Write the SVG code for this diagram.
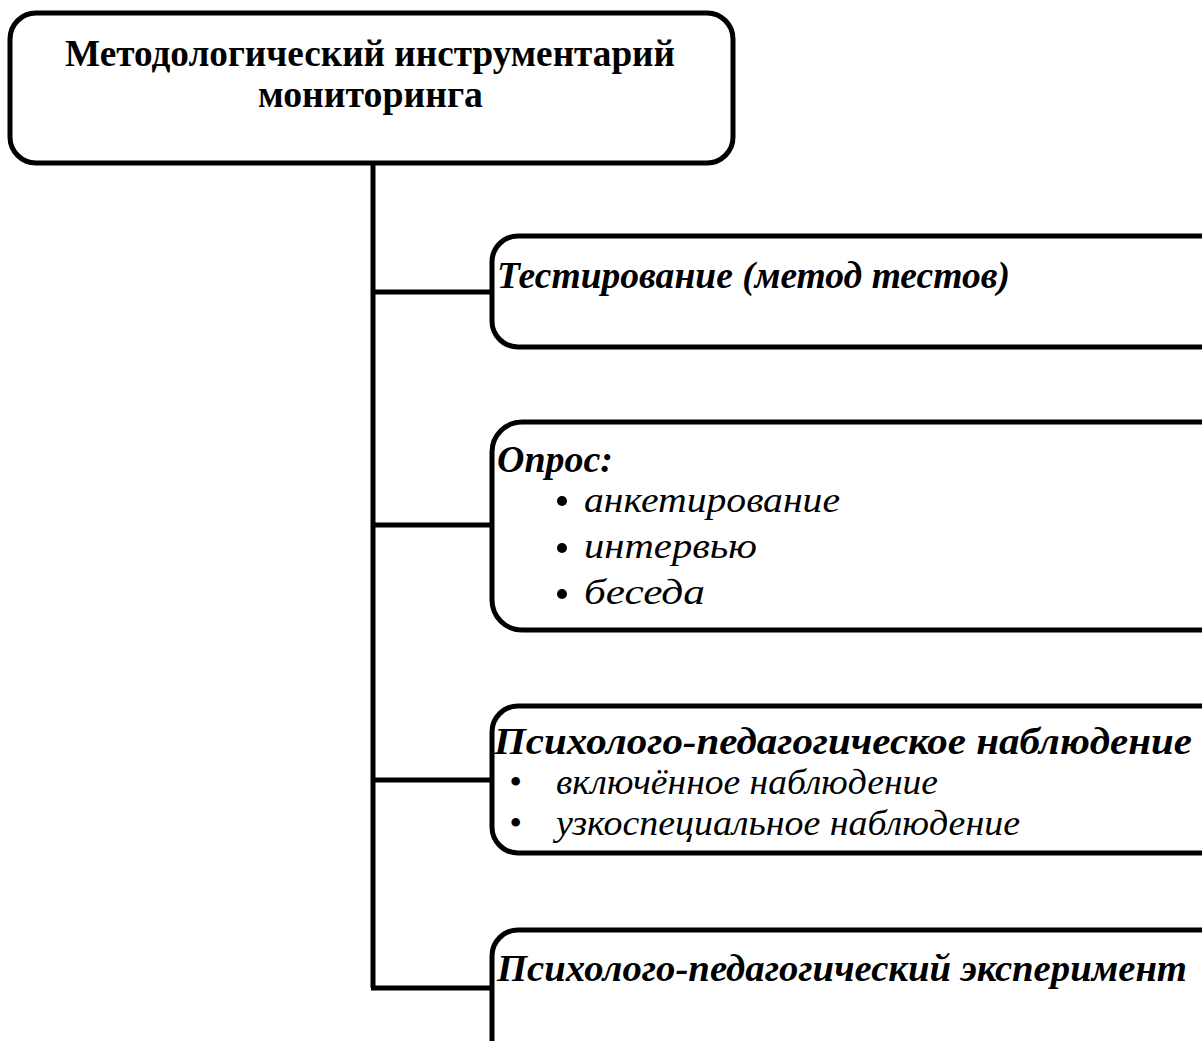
<svg xmlns="http://www.w3.org/2000/svg" width="1202" height="1041" viewBox="0 0 1202 1041">
<style>
.box{fill:#fff;stroke:#000;stroke-width:5}
.con{fill:none;stroke:#000;stroke-width:5}
.t{font-family:"Liberation Serif","Times New Roman",serif;fill:#000}
.h{font-weight:bold;font-size:37px}
.bi{font-weight:bold;font-style:italic;font-size:38px}
.i{font-style:italic;font-size:36px}
</style>
<rect width="1202" height="1041" fill="#fff"/>
<g id="connectors">
<path class="con" d="M373,163 V988 M371,988 H493 M371,292 H493 M371,525 H493 M371,780 H493"/>
</g>
<g id="root">
<rect class="box" x="10" y="13" width="723" height="150" rx="26"/>
<text class="t h" x="65" y="66" textLength="610" lengthAdjust="spacingAndGlyphs">Методологический инструментарий</text>
<text class="t h" x="258" y="107" textLength="225" lengthAdjust="spacingAndGlyphs">мониторинга</text>
</g>
<g id="n1">
<rect class="box" x="492" y="236" width="740" height="111" rx="26"/>
<text class="t bi" x="497" y="288" textLength="513" lengthAdjust="spacingAndGlyphs">Тестирование (метод тестов)</text>
</g>
<g id="n2">
<rect class="box" x="492" y="422" width="740" height="208" rx="30"/>
<text class="t bi" x="497" y="472" textLength="116" lengthAdjust="spacingAndGlyphs">Опрос:</text>
<circle cx="562" cy="501" r="5"/>
<circle cx="562" cy="548" r="5"/>
<circle cx="562" cy="594" r="5"/>
<text class="t i" x="584" y="512" textLength="256" lengthAdjust="spacingAndGlyphs">анкетирование</text>
<text class="t i" x="584" y="558" textLength="173" lengthAdjust="spacingAndGlyphs">интервью</text>
<text class="t i" x="584" y="604" textLength="121" lengthAdjust="spacingAndGlyphs">беседа</text>
</g>
<g id="n3">
<rect class="box" x="492" y="706" width="740" height="147" rx="26"/>
<text class="t bi" x="494" y="754" textLength="698" lengthAdjust="spacingAndGlyphs">Психолого-педагогическое наблюдение</text>
<text class="t i" x="509" y="794">•</text>
<text class="t i" x="509" y="835">•</text>
<text class="t i" x="556" y="794" textLength="382" lengthAdjust="spacingAndGlyphs">включённое наблюдение</text>
<text class="t i" x="556" y="835" textLength="464" lengthAdjust="spacingAndGlyphs">узкоспециальное наблюдение</text>
</g>
<g id="n4">
<rect class="box" x="492" y="930" width="740" height="150" rx="26"/>
<text class="t bi" x="497" y="981" textLength="690" lengthAdjust="spacingAndGlyphs">Психолого-педагогический эксперимент</text>
</g>
</svg>
